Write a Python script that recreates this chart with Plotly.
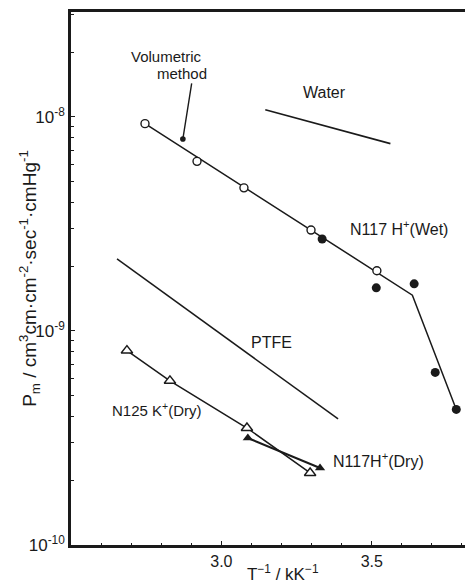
import plotly.graph_objects as go

# Permeability P_m versus reciprocal temperature (kK^-1)
vol_x = [2.746, 2.919, 3.075, 3.298, 3.517]          # volumetric method (open circles)
vol_p = [9.3e-9, 6.2e-9, 4.66e-9, 2.96e-9, 1.91e-9]

wet_x = [3.335, 3.515, 3.641, 3.711, 3.781]          # N117 H+ (Wet), filled circles
wet_p = [2.69e-9, 1.59e-9, 1.66e-9, 6.4e-10, 4.3e-10]

wet_fit_x = [2.746, 3.635, 3.781]                    # broken fit through wet data
wet_fit_p = [9.3e-9, 1.47e-9, 4.3e-10]

water_x = [3.146, 3.562]
water_p = [1.08e-8, 7.5e-9]

ptfe_x = [2.653, 3.388]
ptfe_p = [2.17e-9, 3.88e-10]

n125_x = [2.686, 2.829, 3.085, 3.295]                # N125 K+ (Dry)
n125_p = [8.1e-10, 5.85e-10, 3.52e-10, 2.17e-10]

n117dry_x = [3.088, 3.328]                           # N117 H+ (Dry)
n117dry_p = [3.16e-10, 2.29e-10]

y_tick_vals = [1e-10, 1e-9, 1e-8]
y_tick_text = ["10<sup>-10</sup>", "10<sup>-9</sup>", "10<sup>-8</sup>"]
x_tick_vals = [3.0, 3.5]
x_tick_text = ["3.0", "3.5"]

FONT = "Liberation Sans Narrow, Liberation Sans, Arial"
INK = "#1a1a1a"

y_minor = [k * 10.0 ** d for d in (-10, -9, -8) for k in range(2, 10)]

fig = go.Figure()

def line(x, y, w=1.4):
    fig.add_trace(go.Scatter(x=x, y=y, mode="lines",
                             line=dict(color=INK, width=w), showlegend=False))

line(water_x, water_p, 1.6)
line(ptfe_x, ptfe_p, 1.5)
line(wet_fit_x, wet_fit_p, 1.5)
line(n125_x, n125_p, 1.5)
line(n117dry_x, n117dry_p, 2.0)

fig.add_trace(go.Scatter(x=vol_x, y=vol_p, mode="markers", showlegend=False,
                         marker=dict(symbol="circle", size=8, color="white",
                                     line=dict(color=INK, width=1.4))))
fig.add_trace(go.Scatter(x=wet_x, y=wet_p, mode="markers", showlegend=False,
                         marker=dict(symbol="circle", size=9, color=INK)))
fig.add_trace(go.Scatter(x=n125_x, y=n125_p, mode="markers", showlegend=False,
                         marker=dict(symbol="triangle-up", size=10, color="white",
                                     line=dict(color=INK, width=1.4))))
fig.add_trace(go.Scatter(x=n117dry_x, y=n117dry_p, mode="markers", showlegend=False,
                         marker=dict(symbol="triangle-up", size=9, color=INK)))

def label(x, logy, text, size=15):
    fig.add_annotation(x=x, y=logy, text=text, showarrow=False,
                       font=dict(family=FONT, size=size, color=INK))

label(3.344, -7.888, "Water", 16)
label(3.590, -8.519, "N117 H<sup>+</sup>(Wet)", 16)
label(3.168, -9.056, "PTFE", 16)
label(2.786, -9.369, "N125 K<sup>+</sup>(Dry)", 15)
label(3.524, -9.603, "N117H<sup>+</sup>(Dry)", 16)
label(2.816, -7.720, "Volumetric", 15)
label(2.869, -7.799, "method", 15)

# pointer from the "method" label to the line
fig.add_annotation(x=2.872, y=-8.103, ax=2.902, ay=-7.836, axref="x", ayref="y",
                   text="", showarrow=True, arrowhead=6, arrowsize=1,
                   arrowwidth=1.4, arrowcolor=INK)

# axis titles
fig.add_annotation(xref="paper", yref="paper", x=-0.145, y=0.50, textangle=-90,
                   text="P<sub>m</sub> / cm<sup>3</sup>cm·cm<sup>-2</sup>·sec<sup>-1</sup>·cmHg<sup>-1</sup>",
                   showarrow=False, font=dict(family=FONT, size=19, color=INK))
fig.add_annotation(xref="paper", yref="paper", x=0.538, y=-0.052,
                   text="T<sup>−1</sup> / kK<sup>−1</sup>", yanchor="middle",
                   showarrow=False, font=dict(family=FONT, size=17, color=INK))

fig.update_layout(
    width=465, height=585,
    margin=dict(l=71, r=0, t=12, b=40),
    paper_bgcolor="white", plot_bgcolor="white",
    font=dict(family=FONT, size=16, color=INK),
    showlegend=False,
    xaxis=dict(range=[2.5, 3.81], showgrid=False, zeroline=False,
               showline=True, linecolor=INK, linewidth=2.5, mirror=True,
               tickvals=x_tick_vals, ticktext=x_tick_text,
               ticks="inside", ticklen=4, tickcolor=INK,
               minor=dict(ticks="inside", ticklen=2, dtick=0.1, tickcolor=INK),
               tickfont=dict(family=FONT, size=16, color=INK)),
    yaxis=dict(type="log", range=[-10, -7.51], showgrid=False, zeroline=False,
               showline=True, linecolor=INK, linewidth=2.5,
               tickvals=y_tick_vals, ticktext=y_tick_text,
               ticks="inside", ticklen=4, tickcolor=INK,
               minor=dict(ticks="inside", ticklen=3, tickcolor=INK,
                          tickmode="array", tickvals=y_minor),
               tickfont=dict(family=FONT, size=17, color=INK)),
)

fig.write_html("out.html")
